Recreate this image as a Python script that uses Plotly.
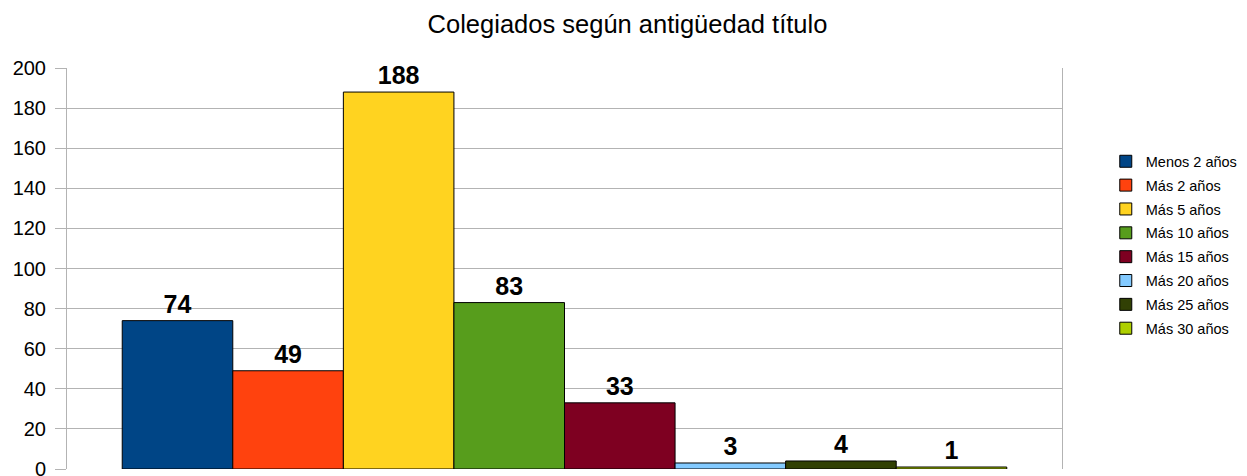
import plotly.graph_objects as go

title = "Colegiados según antigüedad título"
series = ["Menos 2 años", "Más 2 años", "Más 5 años", "Más 10 años",
          "Más 15 años", "Más 20 años", "Más 25 años", "Más 30 años"]
values = [74, 49, 188, 83, 33, 3, 4, 1]
colors = ["#004586", "#ff420e", "#ffd320", "#579d1c",
          "#7e0021", "#83caff", "#314004", "#aecf00"]
category = [""]
y_ticks = [0, 20, 40, 60, 80, 100, 120, 140, 160, 180, 200]

FONT = "Liberation Sans, Arial, sans-serif"

fig = go.Figure()
for name, v, c in zip(series, values, colors):
    fig.add_trace(go.Bar(
        x=category, y=[v], name=name, legendgroup=name,
        marker=dict(color=c, line=dict(color="#000000", width=1)),
        text=[str(v)], textposition="outside",
        textfont=dict(family=FONT, size=25, color="#000000", weight="bold"),
        cliponaxis=False,
    ))

# The page body adds an 8px offset, so the figure is 8px smaller than the window.
fig.update_layout(
    width=1239, height=468,
    margin=dict(l=59, r=185, t=60, b=7, autoexpand=False),
    paper_bgcolor="white", plot_bgcolor="white",
    barmode="group", bargap=0.111, bargroupgap=0,
    font=dict(family=FONT, color="#000000"),
    title=dict(text=title, x=0.5, xanchor="center", y=0.966, yanchor="middle",
               font=dict(size=25.5, color="#000000")),
    showlegend=True,
    legend=dict(x=1.044, xanchor="left", y=0.559, yanchor="middle",
                font=dict(size=14.5, color="#000000"),
                traceorder="grouped", tracegroupgap=2,
                itemwidth=30, bgcolor="rgba(0,0,0,0)"),
)
fig.update_xaxes(showticklabels=False, showgrid=False, zeroline=False, showline=False,
                 ticks="", automargin=False)
fig.update_yaxes(range=[0, 200], tickvals=y_ticks, showgrid=True, gridcolor="#b3b3b3",
                 gridwidth=1, zeroline=False, showline=True, mirror=True, linecolor="#b3b3b3",
                 linewidth=1, ticks="outside", ticklen=11, tickcolor="#b3b3b3",
                 tickfont=dict(size=20, color="#000000"), ticklabelstandoff=5,
                 ticklabeloverflow="allow", automargin=False)

fig.write_html("out.html")
